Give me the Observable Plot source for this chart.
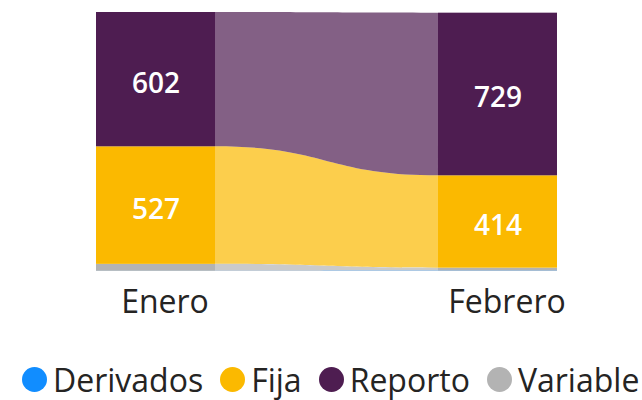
<!DOCTYPE html>
<html><head><meta charset="utf-8">
<script src="https://cdn.jsdelivr.net/npm/d3@7"></script>
<script src="https://cdn.jsdelivr.net/npm/@observablehq/plot@0.6"></script>
<style>
body{margin:0;background:#fff;font-family:"Open Sans",sans-serif;width:642px;height:400px;overflow:hidden;}
#legend{display:flex;align-items:center;height:50px;margin-top:24px;padding-left:22px;white-space:nowrap;font-size:32px;color:#252423;}
.item{display:flex;align-items:center;margin-right:17px;}
.dot{width:25px;height:25px;border-radius:50%;margin-right:6px;flex:none;}
</style></head><body>
<div id="chart"></div>
<div id="legend"></div>
<script>
const months = ["Enero", "Febrero"];
const stackOrder = ["Derivados", "Variable", "Fija", "Reporto"]; // bottom → top
const legendOrder = ["Derivados", "Fija", "Reporto", "Variable"];
const derivados = [1, 2];
const variable = [31, 13];
const fija = [527, 414];
const reporto = [602, 729];
const labeledSeries = ["Fija", "Reporto"];
const colorRange = ["#118DFF", "#FBB900", "#4E1D51", "#B3B3B3"];

const values = {Derivados: derivados, Variable: variable, Fija: fija, Reporto: reporto};
const hw = 0.174; // half column width in category units

const stacked = [];
months.forEach((m, i) => {
  let acc = 0;
  stackOrder.forEach(s => {
    const v = values[s][i];
    stacked.push({i, month: m, series: s, value: v, y1: acc, y2: acc + v});
    acc += v;
  });
});
const ribbon = stacked.map(d => ({...d, x: d.i === 0 ? d.i + hw : d.i - hw}));
const maxTotal = d3.max(months.map((m, i) => d3.sum(stackOrder, s => values[s][i])));

const chart = Plot.plot({
  width: 642,
  height: 330,
  marginLeft: 96,
  marginRight: 85,
  marginTop: 12,
  marginBottom: 59,
  style: {fontFamily: "Open Sans, sans-serif", color: "#252423", background: "#fff"},
  x: {domain: [-hw, 1 + hw], axis: null},
  y: {domain: [0, maxTotal], axis: null},
  color: {domain: legendOrder, range: colorRange},
  marks: [
    Plot.areaY(ribbon, {x: "x", y1: "y1", y2: "y2", z: "series", fill: "series", fillOpacity: 0.7, curve: "bump-x"}),
    Plot.rect(stacked, {x1: d => d.i - hw, x2: d => d.i + hw, y1: "y1", y2: "y2", fill: "series"}),
    Plot.text(stacked.filter(d => labeledSeries.includes(d.series)), {
      x: "i", y: d => (d.y1 + d.y2) / 2, text: d => String(d.value),
      fill: "white", fontSize: 28, fontWeight: 600, dy: 4
    }),
    Plot.axisX([0, 1], {tickFormat: i => months[i], tickSize: 0, tickPadding: 19, fontSize: 32, dx: 9})
  ]
});
document.getElementById("chart").appendChild(chart);

const legend = document.getElementById("legend");
legendOrder.forEach((s, k) => {
  const item = document.createElement("div");
  item.className = "item";
  const dot = document.createElement("span");
  dot.className = "dot";
  dot.style.background = colorRange[k];
  const label = document.createElement("span");
  label.textContent = s;
  item.appendChild(dot);
  item.appendChild(label);
  legend.appendChild(item);
});
</script>
</body></html>
